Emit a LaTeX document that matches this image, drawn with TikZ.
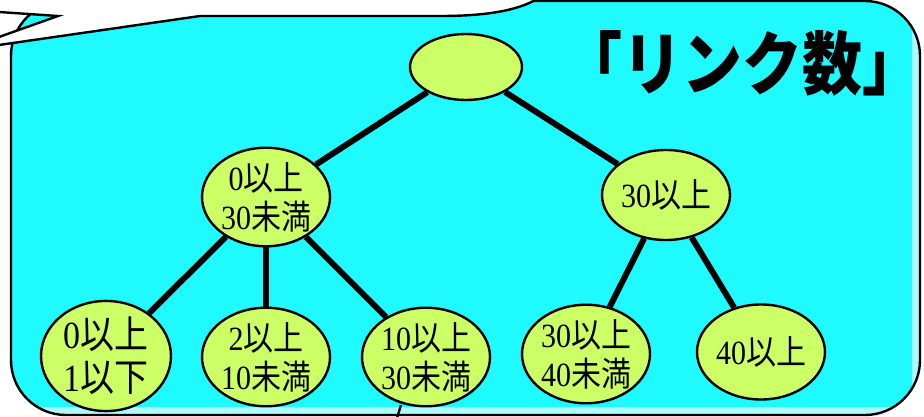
\documentclass[tikz,border=0pt]{standalone}
\usepackage{fontspec}
\usepackage{graphicx}
\setmainfont{Liberation Serif}
\newfontfamily\jp{Noto Sans CJK JP}
\usetikzlibrary{shapes.geometric}
\definecolor{boxcyan}{RGB}{30,250,255}
\definecolor{bandcyan}{RGB}{175,250,255}
\definecolor{nodegreen}{RGB}{204,255,102}
\newcommand{\vtl}[1]{\scalebox{1}[1.13]{#1}}
\tikzset{
  tnode/.style={ellipse, draw=black, line width=2.4pt, fill=nodegreen, inner sep=0pt,
    minimum width=128pt, minimum height=90pt, align=center,
    font=\fontsize{30}{39}\selectfont},
  tedge/.style={line width=6pt},
  outline/.style={line width=2.4pt}
}
\begin{document}
\begin{tikzpicture}[x=1pt,y=-1pt]
\useasboundingbox (0,0) rectangle (924,417);
% cyan box
\path[fill=boxcyan, rounded corners=55pt] (11,1) rectangle (920,415);
\begin{scope}
  \clip[rounded corners=55pt] (11,1) rectangle (920,415);
  \fill[bandcyan] (912,0) rectangle (921,416);
  \fill[bandcyan] (0,407) rectangle (921,416);
\end{scope}
\draw[outline, rounded corners=55pt] (11,1) rectangle (920,415);
% white callout over the top-left
\fill[white] (-1,-1) -- (537,-1) .. controls (515,12) and (480,16) .. (440,16) -- (200,16)
  -- (-1,45) -- (-1,37) -- (58,16) -- (-1,12) -- cycle;
\coordinate (c1) at (537,-1);
\coordinate (c2) at (440,16);
\coordinate (c3) at (200,16);
\coordinate (c4) at (-1,45);
\coordinate (t1) at (-1,12);
\coordinate (t2) at (58,16);
\coordinate (t3) at (-1,37);
\draw[outline] (c1) .. controls (515,12) and (480,16) .. (c2) -- (c3) -- (c4);
\draw[outline, line join=miter] (t1) -- (t2) -- (t3);
% small stroke at the bottom
\coordinate (s1) at (401,405);
\coordinate (s2) at (397,418);
\draw[line width=2.4pt] (s1) -- (s2);
% title
\node (title) at (742,63) {\scalebox{1}[1.15]{\fontsize{60}{60}\selectfont\jp\bfseries 「リンク数」}};
% nodes
\node[tnode, minimum width=112pt, minimum height=66pt] (root) at (466,67) {};
\node[tnode] (m1) at (266,197) {\vtl{0{\jp 以上}}\\\vtl{30{\jp 未満}}};
\node[tnode] (m2) at (666,195) {\vtl{30{\jp 以上}}};
\node[tnode, minimum width=130pt, minimum height=92pt, font=\fontsize{34}{43}\selectfont] (b1) at (106,356) {\vtl{0{\jp 以上}}\\\vtl{1{\jp 以下}}};
\node[tnode] (b2) at (266,357) {\vtl{2{\jp 以上}}\\\vtl{10{\jp 未満}}};
\node[tnode] (b3) at (426,357) {\vtl{10{\jp 以上}}\\\vtl{30{\jp 未満}}};
\node[tnode, minimum height=93pt] (b4) at (586,354) {\vtl{30{\jp 以上}}\\\vtl{40{\jp 未満}}};
\node[tnode, minimum height=95pt] (b5) at (761,352) {\vtl{40{\jp 以上}}};
% edges
\draw[tedge] (root) -- (m1);
\draw[tedge] (root) -- (m2);
\draw[tedge] (m1) -- (b1);
\draw[tedge] (m1) -- (b2);
\draw[tedge] (m1) -- (b3);
\draw[tedge] (m2) -- (b4);
\draw[tedge] (m2) -- (b5);
\end{tikzpicture}
\end{document}
